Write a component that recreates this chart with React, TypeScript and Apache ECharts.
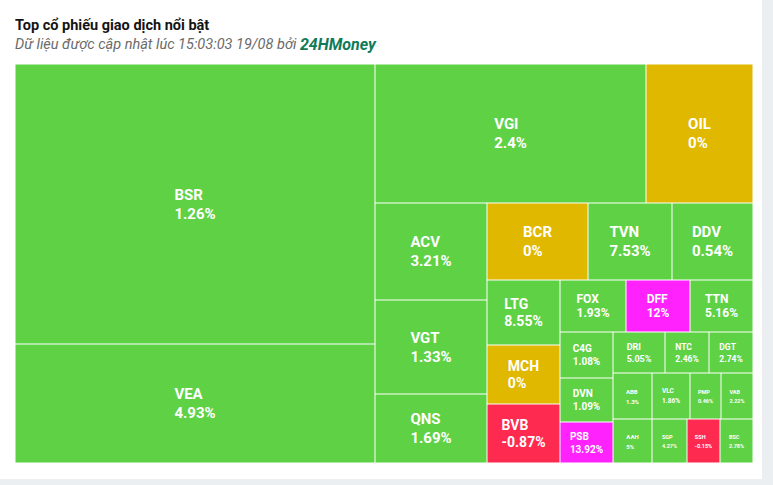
import React, { useEffect, useRef } from 'react';
import * as echarts from 'echarts';

// ---- data ----
const tickers = ['BSR', 'VEA', 'VGI', 'OIL', 'ACV', 'VGT', 'QNS', 'BCR', 'TVN', 'DDV', 'LTG', 'MCH', 'BVB', 'FOX', 'DFF', 'TTN', 'C4G', 'DVN', 'PSB', 'DRI', 'NTC', 'DGT', 'ABB', 'AAH', 'VLC', 'PMP', 'VAB', 'SGP', 'SSH', 'BSC'];
const tradeValues = [100800, 42840, 37669, 14873, 10864, 10528, 7728, 7777, 6468, 6237, 4745, 4307, 4307, 3432, 3328, 3276, 2438, 2332, 2173, 2132, 1804, 1804, 1794, 1716, 1748, 1426, 1472, 1540, 1452, 1452];
const changes = [1.26, 4.93, 2.4, 0, 3.21, 1.33, 1.69, 0, 7.53, 0.54, 8.55, 0, -0.87, 1.93, 12, 5.16, 1.08, 1.09, 13.92, 5.05, 2.46, 2.74, 1.3, 5, 1.86, 0.46, 2.22, 4.27, -0.15, 2.78];
const ceilingTickers = ['DFF', 'PSB'];

// grouping of tickers into nested blocks (tree structure only)
const layoutGroups: any[] = [
  ['BSR', 'VEA'],
  ['VGI', 'OIL',
    [['ACV', 'VGT', 'QNS'],
      [['BCR', 'TVN', 'DDV'],
        [['LTG', 'MCH', 'BVB'],
          [['FOX', 'DFF', 'TTN'],
            [['C4G', 'DVN', 'PSB'],
              [['DRI', 'NTC', 'DGT'],
                [['ABB', 'AAH'],
                  [['VLC', 'PMP', 'VAB'], ['SGP', 'SSH', 'BSC']]]]]]]]]],
];

const titleText = 'Top cổ phiếu giao dịch nổi bật';
const subtitleText = 'Dữ liệu được cập nhật lúc 15:03:03 19/08 bởi ';
const brandText = '24HMoney';

// ---- styles ----
const labelTier: Record<string, [number, number]> = {
  BSR: [15, 19], VEA: [15, 19], VGI: [15, 19], OIL: [15, 19], ACV: [15, 19], VGT: [15, 19], QNS: [15, 19],
  BCR: [15, 19], TVN: [15, 19], DDV: [15, 19],
  LTG: [14, 17], MCH: [14, 17], BVB: [14, 17],
  FOX: [12, 14], DFF: [12, 14], TTN: [12, 14],
  C4G: [10, 13], DVN: [10, 13], PSB: [10, 13],
  DRI: [9, 12], NTC: [8.5, 12], DGT: [8.5, 12],
  ABB: [6, 10], AAH: [6, 10], VLC: [6.5, 10],
  PMP: [5.5, 9], VAB: [5.5, 9], SGP: [5.5, 9], SSH: [5.5, 9], BSC: [5.5, 9],
};

const colorOf = (name: string, chg: number) =>
  ceilingTickers.includes(name) ? '#ff22fd' : chg > 0 ? '#5fd145' : chg < 0 ? '#ff2a4f' : '#e0b800';

export default function App() {
  const ref = useRef<HTMLDivElement>(null);
  useEffect(() => {
    const chart = echarts.init(ref.current!, null, { renderer: 'svg' });
    const ctx = document.createElement('canvas').getContext('2d')!;
    const measure = (t: string, size: number) => {
      ctx.font = `bold ${size}px Roboto`;
      return ctx.measureText(t).width;
    };
    const leaf = (name: string) => {
      const i = tickers.indexOf(name);
      const chg = changes[i];
      const pct = `${chg}%`;
      const [fs, lh] = labelTier[name];
      const wn = measure(name, fs);
      const wp = measure(pct, fs);
      const w = Math.max(wn, wp);
      const base = { fontSize: fs, lineHeight: lh, fontWeight: 'bold', fontFamily: 'Roboto', color: '#fff' };
      return {
        name,
        value: tradeValues[i],
        itemStyle: { color: colorOf(name, chg), borderColor: '#fff', borderWidth: 0.5, gapWidth: 0 },
        label: {
          show: true,
          formatter: `{n|${name}}\n{p|${pct}}`,
          rich: {
            n: { ...base, padding: [0, w - wn, 0, 0] },
            p: { ...base, padding: [0, w - wp, 0, 0] },
          },
        },
      };
    };
    const build = (g: any, key: string): any =>
      typeof g === 'string'
        ? leaf(g)
        : {
            name: key,
            children: g.map((c: any, j: number) => build(c, key + '-' + j)),
            itemStyle: { borderWidth: 0, gapWidth: 0, borderColor: '#fff' },
          };
    const data = layoutGroups.map((g, j) => build(g, 'g' + j));

    chart.setOption({
      animation: false,
      backgroundColor: '#ffffff',
      graphic: [
        {
          type: 'text',
          x: 15,
          y: 25,
          style: {
            text: titleText,
            fontSize: 14.5,
            fontWeight: 'bold',
            fontFamily: 'Roboto',
            fill: '#141414',
            verticalAlign: 'middle',
          },
        },
        {
          type: 'text',
          x: 15,
          y: 44,
          style: {
            text: `{a|${subtitleText}}{b|${brandText}}`,
            verticalAlign: 'middle',
            rich: {
              a: { fontSize: 14.5, fontStyle: 'italic', fontFamily: 'Roboto', fill: '#6a6a6a' },
              b: { fontSize: 16, fontStyle: 'italic', fontWeight: 'bold', fontFamily: 'Roboto', fill: '#117a59' },
            },
          },
        },
      ],
      series: [
        {
          type: 'treemap',
          left: 15,
          top: 64,
          width: 738,
          height: 399,
          roam: false,
          nodeClick: false,
          sort: false,
          squareRatio: 1.3,
          visibleMin: 0,
          breadcrumb: { show: false },
          itemStyle: { borderWidth: 0, gapWidth: 0, borderColor: '#fff' },
          label: {
            show: true,
            position: 'inside',
            padding: 0,
            color: '#fff',
            fontWeight: 'bold',
            fontFamily: 'Roboto',
            overflow: 'none',
          },
          labelLayout: (p: any) => {
            const m = /\{n\|([^}]+)\}/.exec(p.text || '');
            const tier = m ? labelTier[m[1]] : null;
            if (!tier || !p.rect) return {};
            return { dy: (p.rect.height - 2 * tier[1]) / 2 };
          },
          upperLabel: { show: false },
          data,
        },
      ],
    });
    return () => chart.dispose();
  }, []);

  return (
    <div style={{ position: 'fixed', left: 0, top: 0, width: 773, height: 485, background: '#eceff2' }}>
      <div ref={ref} style={{ width: 762, height: 479, background: '#fff' }} />
    </div>
  );
}
